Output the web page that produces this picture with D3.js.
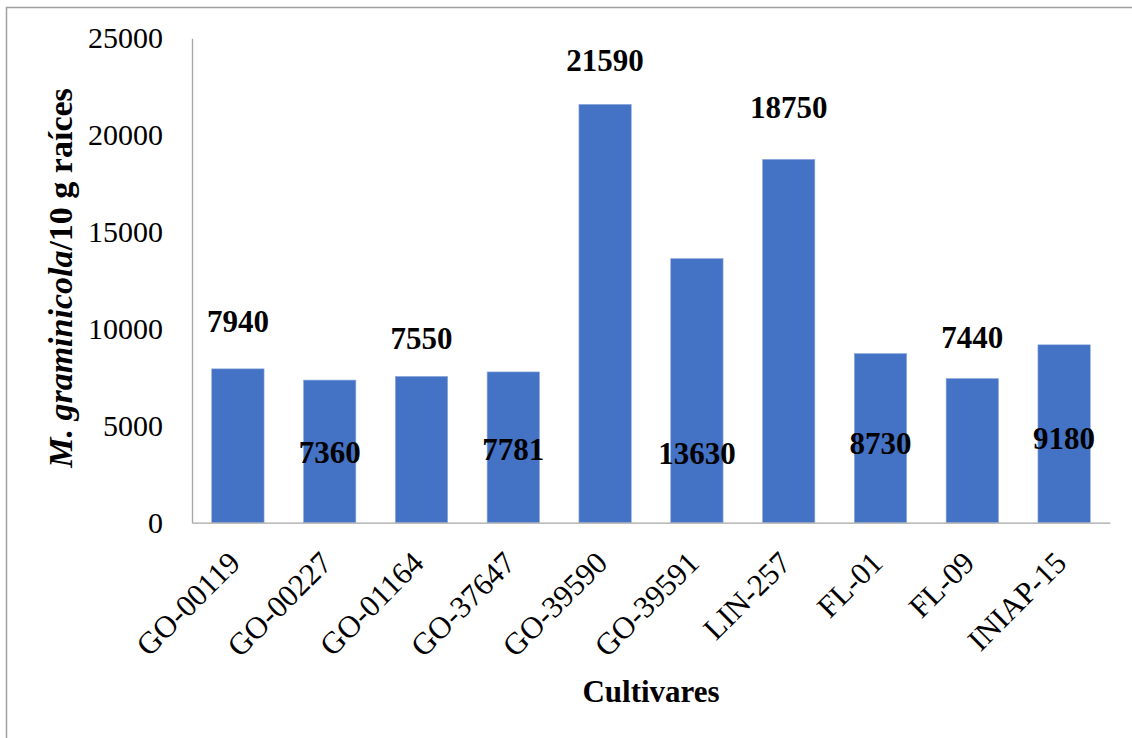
<!DOCTYPE html>
<html>
<head>
<meta charset="utf-8">
<script src="https://cdn.jsdelivr.net/npm/d3@7"></script>
<style>
  html, body { margin: 0; padding: 0; background: #ffffff; }
  svg { display: block; }
  text { font-family: "Liberation Serif", "Times New Roman", serif; fill: #000; }
</style>
</head>
<body>
<svg id="chart" width="1132" height="738"></svg>
<script>
// Cultivars and nematode counts per 10 g of roots
const cultivars = ["GO-00119", "GO-00227", "GO-01164", "GO-37647", "GO-39590",
                   "GO-39591", "LIN-257", "FL-01", "FL-09", "INIAP-15"];
const counts = [7940, 7360, 7550, 7781, 21590, 13630, 18750, 8730, 7440, 9180];
// Value-axis level at which each count label sits (baseline)
const labelAnchor = [9850, 3060, 8950, 3240, 23320, 3010, 20870, 3560, 9020, 3820];
const yTicks = [0, 5000, 10000, 15000, 20000, 25000];

const svg = d3.select("#chart");
const W = 1132, H = 738;
const plot = { left: 192, right: 1110, top: 38.3, bottom: 522.7 };

// outer frame
svg.append("rect")
  .attr("x", 6.5).attr("y", 7.5)
  .attr("width", W + 20).attr("height", H + 20)
  .attr("fill", "none").attr("stroke", "#a0a0a0").attr("stroke-width", 1.5);

const x = d3.scaleBand()
  .domain(cultivars)
  .range([plot.left, plot.right])
  .paddingInner(0.43)
  .paddingOuter(0.215);

const y = d3.scaleLinear()
  .domain([0, 25000])
  .range([plot.bottom, plot.top]);

// bars
svg.append("g").selectAll("rect")
  .data(cultivars)
  .join("rect")
  .attr("x", d => x(d))
  .attr("y", (d, i) => y(counts[i]))
  .attr("width", x.bandwidth())
  .attr("height", (d, i) => y(0) - y(counts[i]))
  .attr("fill", "#4472C4")
  .attr("stroke", "#8eaadb")
  .attr("stroke-width", 0.6);

// y axis
const yAxis = svg.append("g")
  .attr("transform", `translate(${plot.left},0)`)
  .call(d3.axisLeft(y).tickValues(yTicks).tickSize(0).tickPadding(29).tickFormat(d3.format("d")));
yAxis.select(".domain").attr("stroke", "#a6a6a6").attr("stroke-width", 1.3);
yAxis.selectAll("text").style("font-size", "30px").style("font-family", "Liberation Serif, serif");

// x axis
const xAxis = svg.append("g")
  .attr("transform", `translate(0,${plot.bottom})`)
  .call(d3.axisBottom(x).tickSize(0).tickFormat(() => ""));
xAxis.select(".domain").attr("stroke", "#a6a6a6").attr("stroke-width", 1.3);

// rotated category labels
svg.append("g").selectAll("text")
  .data(cultivars)
  .join("text")
  .attr("transform", d => `translate(${x(d) + x.bandwidth() / 2 + 4},${plot.bottom + 42}) rotate(-45)`)
  .attr("text-anchor", "end")
  .style("font-size", "31px")
  .text(d => d);

// count labels
svg.append("g").selectAll("text")
  .data(cultivars)
  .join("text")
  .attr("x", d => x(d) + x.bandwidth() / 2)
  .attr("y", (d, i) => y(labelAnchor[i]))
  .attr("text-anchor", "middle")
  .style("font-size", "31px")
  .style("font-weight", "bold")
  .text((d, i) => counts[i]);

// axis titles
const yTitle = svg.append("text")
  .attr("transform", `translate(72,278) rotate(-90)`)
  .attr("text-anchor", "middle")
  .style("font-size", "34px")
  .style("font-weight", "bold");
yTitle.append("tspan").style("font-style", "italic").text("M. graminicola");
yTitle.append("tspan").text("/10 g raíces");

svg.append("text")
  .attr("x", (plot.left + plot.right) / 2)
  .attr("y", 702)
  .attr("text-anchor", "middle")
  .style("font-size", "31px")
  .style("font-weight", "bold")
  .text("Cultivares");
</script>
</body>
</html>
